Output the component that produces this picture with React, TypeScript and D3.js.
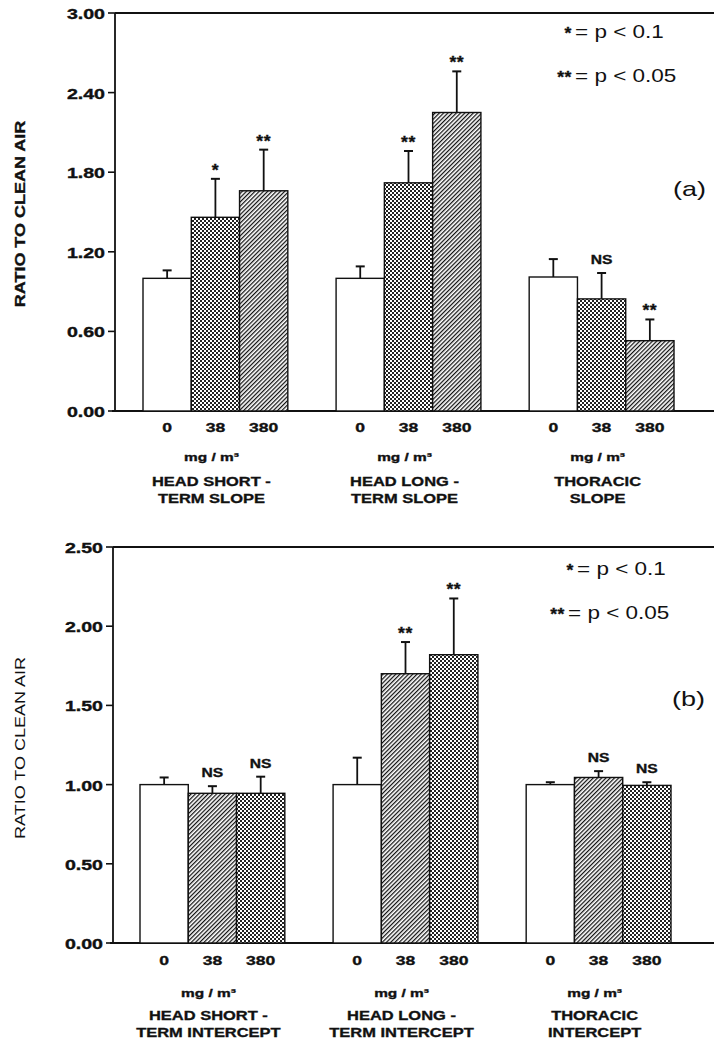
import React from "react";
import * as d3 from "d3";

// shared categories
const doses = ["0", "38", "380"];
const unitLabel = "mg / m³";
const yTitle = "RATIO TO CLEAN AIR";
const legendStars = ["*", "**"];
const legendText = ["= p < 0.1", "= p < 0.05"];

// panel (a) slopes
const groupsA = [
  ["HEAD SHORT -", "TERM SLOPE"],
  ["HEAD LONG -", "TERM SLOPE"],
  ["THORACIC", "SLOPE"],
];
const meansA = [
  [1.0, 1.46, 1.66],
  [1.0, 1.72, 2.25],
  [1.01, 0.845, 0.53],
];
const errsA = [
  [0.06, 0.29, 0.31],
  [0.09, 0.24, 0.31],
  [0.135, 0.195, 0.16],
];
const sigA = [
  ["", "*", "**"],
  ["", "**", "**"],
  ["", "NS", "**"],
];
const ticksA = [0, 0.6, 1.2, 1.8, 2.4, 3.0];

// panel (b) intercepts
const groupsB = [
  ["HEAD SHORT -", "TERM INTERCEPT"],
  ["HEAD LONG -", "TERM INTERCEPT"],
  ["THORACIC", "INTERCEPT"],
];
const meansB = [
  [1.0, 0.945, 0.945],
  [1.0, 1.7, 1.82],
  [1.0, 1.045, 0.995],
];
const errsB = [
  [0.045, 0.045, 0.105],
  [0.17, 0.2, 0.355],
  [0.015, 0.04, 0.02],
];
const sigB = [
  ["", "NS", "NS"],
  ["", "**", "**"],
  ["", "NS", "NS"],
];
const ticksB = [0, 0.5, 1.0, 1.5, 2.0, 2.5];

const FONT = "'Liberation Sans', Arial, Helvetica, sans-serif";
const W = 714;
const H = 1040;

const T = ({ x, y, sx = 1.3, anchor = "middle", size = 13, weight = "bold", rotate = 0, spacing = 0, children }: any) => (
  <g transform={`translate(${x},${y})${rotate ? ` rotate(${rotate})` : ""} scale(${sx},1)`}>
    <text
      textAnchor={anchor}
      fontSize={size}
      fontWeight={weight}
      fontFamily={FONT}
      letterSpacing={spacing}
      fill="#111"
      stroke={weight === "bold" ? "#111" : "none"}
      strokeWidth={weight === "bold" ? 0.35 : 0}
    >
      {children}
    </text>
  </g>
);

const Panel = ({ cfg, groups, means, errs, sig, ticks, fills }: any) => {
  const y = d3.scaleLinear().domain([0, ticks[ticks.length - 1]]).range([cfg.yBot, cfg.yTop]);
  const outer = d3
    .scaleBand<number>()
    .domain(groups.map((_: any, i: number) => i))
    .range(cfg.barsRange)
    .paddingInner(0.25)
    .paddingOuter(0);
  const inner = d3.scaleBand<string>().domain(doses).range([0, outer.bandwidth()]);

  return (
    <g>
      {/* frame */}
      <line x1={cfg.xAxis} x2={W} y1={cfg.yTop} y2={cfg.yTop} stroke="#111" strokeWidth={1.8} />
      <line x1={cfg.xAxis} x2={cfg.xAxis} y1={cfg.yTop} y2={cfg.yBot} stroke="#111" strokeWidth={1.8} />
      <line x1={cfg.xAxis - 3} x2={W} y1={cfg.yBot} y2={cfg.yBot} stroke="#111" strokeWidth={1.8} />

      {ticks.map((t: number) => (
        <g key={t}>
          <line x1={cfg.xAxis - 7} x2={cfg.xAxis} y1={y(t)} y2={y(t)} stroke="#111" strokeWidth={1.6} />
          <T x={cfg.xAxis - 10} y={y(t) + 6} anchor="end" size={14} sx={1.4}>
            {d3.format(".2f")(t)}
          </T>
        </g>
      ))}

      {groups.map((g: string[], gi: number) => {
        const gx = outer(gi)!;
        return (
          <g key={gi}>
            {doses.map((d, di) => {
              const bx = gx + inner(d)!;
              const cx = bx + inner.bandwidth() / 2;
              const top = y(means[gi][di]);
              const et = y(means[gi][di] + errs[gi][di]);
              const isNS = sig[gi][di] === "NS";
              return (
                <g key={d}>
                  <line x1={cx} x2={cx} y1={top} y2={et} stroke="#111" strokeWidth={1.8} />
                  <line x1={cx - 4.5} x2={cx + 4.5} y1={et} y2={et} stroke="#111" strokeWidth={2} />
                  <rect
                    x={bx}
                    y={top}
                    width={inner.bandwidth()}
                    height={cfg.yBot - top}
                    fill={fills[di]}
                    stroke="#111"
                    strokeWidth={1.4}
                  />
                  {sig[gi][di] && (
                    <T
                      x={cx}
                      y={et - (isNS ? 9 : 3)}
                      size={isNS ? 12.5 : 16}
                      sx={isNS ? 1.25 : 1.1}
                      spacing={isNS ? 0 : 0.5}
                    >
                      {sig[gi][di]}
                    </T>
                  )}
                  <T x={cx} y={cfg.doseY} size={13} sx={1.35}>
                    {d}
                  </T>
                </g>
              );
            })}
            <T x={gx + outer.bandwidth() / 2 - 4} y={cfg.unitY} size={11} sx={1.4}>
              {unitLabel}
            </T>
            {g.map((line, li) => (
              <T key={li} x={gx + outer.bandwidth() / 2 - 4} y={cfg.catY + li * 17} size={13.5} sx={1.22}>
                {line}
              </T>
            ))}
          </g>
        );
      })}

      {/* legend */}
      {legendStars.map((s, i) => (
        <g key={s}>
          <T x={cfg.eqX[i] - 3} y={cfg.legY[i] + 1} anchor="end" size={16} sx={1.1} spacing={0.5}>
            {s}
          </T>
          <T x={cfg.eqX[i]} y={cfg.legY[i]} anchor="start" size={18} weight="normal" sx={1.25}>
            {legendText[i]}
          </T>
        </g>
      ))}
      <T x={cfg.tagX} y={cfg.tagY} anchor="start" size={20} weight="normal" sx={1.35}>
        {cfg.tag}
      </T>

      <T x={25} y={cfg.titleY} rotate={-90} size={15} weight={cfg.titleWeight} sx={1.2}>
        {yTitle}
      </T>
    </g>
  );
};

const cfgA = {
  yTop: 13,
  yBot: 411,
  xAxis: 115,
  barsRange: [143, 674],
  doseY: 432,
  unitY: 461,
  catY: 486,
  legY: [38, 82],
  eqX: [575, 575],
  tag: "(a)",
  tagX: 673,
  tagY: 196,
  titleY: 214,
  titleWeight: "bold",
};

const cfgB = {
  yTop: 547,
  yBot: 943,
  xAxis: 113,
  barsRange: [140, 671],
  doseY: 965,
  unitY: 997,
  catY: 1020,
  legY: [575, 619],
  eqX: [577, 568],
  tag: "(b)",
  tagX: 672,
  tagY: 706,
  titleY: 748,
  titleWeight: "normal",
};

export default function App() {
  return (
    <svg width={W} height={H} style={{ position: "absolute", left: 0, top: 0, background: "#fff" }}>
      <defs>
        <pattern id="dots" width={4} height={4} patternUnits="userSpaceOnUse">
          <rect width={4} height={4} fill="#fff" />
          <rect x={0} y={0} width={2} height={2} fill="#222" />
          <rect x={2} y={2} width={2} height={2} fill="#222" />
        </pattern>
        <pattern id="hatch" width={3} height={3} patternUnits="userSpaceOnUse" patternTransform="rotate(45)">
          <rect width={3} height={3} fill="#fff" />
          <line x1={0.6} y1={0} x2={0.6} y2={3} stroke="#111" strokeWidth={1.3} />
        </pattern>
      </defs>
      <rect width={W} height={H} fill="#fff" />
      <Panel
        cfg={cfgA}
        groups={groupsA}
        means={meansA}
        errs={errsA}
        sig={sigA}
        ticks={ticksA}
        fills={["#fff", "url(#dots)", "url(#hatch)"]}
      />
      <Panel
        cfg={cfgB}
        groups={groupsB}
        means={meansB}
        errs={errsB}
        sig={sigB}
        ticks={ticksB}
        fills={["#fff", "url(#hatch)", "url(#dots)"]}
      />
    </svg>
  );
}
